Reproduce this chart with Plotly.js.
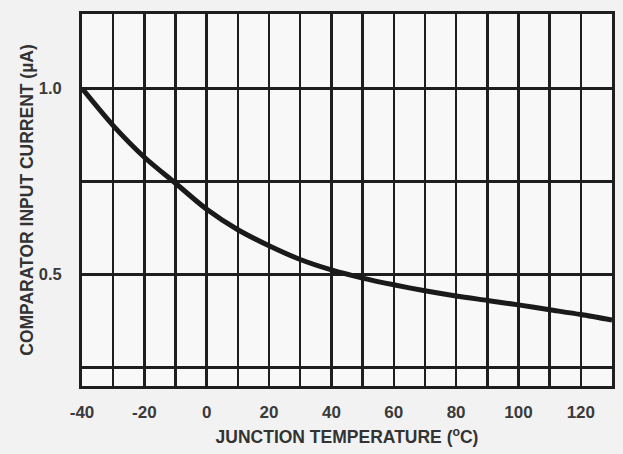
<!DOCTYPE html>
<html>
<head>
<meta charset="utf-8">
<script src="https://cdn.plot.ly/plotly-3.0.1.min.js"></script>
<style>html,body{margin:0;padding:0;background:#f2f2f2;}#chart{width:623px;height:454px;}</style>
</head>
<body>
<div id="chart"></div>
<script>
const temperature = [-40, -30, -20, -10, 0, 10, 20, 30, 40, 50, 60, 70, 80, 90, 100, 110, 120, 130];
const inputCurrent = [1.0, 0.90, 0.815, 0.745, 0.675, 0.62, 0.577, 0.54, 0.512, 0.49, 0.472, 0.456, 0.442, 0.43, 0.418, 0.405, 0.392, 0.377];
const xTickVals = [-40, -20, 0, 20, 40, 60, 80, 100, 120];
const xTickText = ['-40', '-20', '0', '20', '40', '60', '80', '100', '120'];
const yTickVals = [0.5, 1.0];
const yTickText = ['0.5', '1.0'];

const trace = {
  x: temperature, y: inputCurrent, type: 'scatter', mode: 'lines',
  line: {color: '#1a1a1a', width: 5, shape: 'spline', smoothing: 0.8},
  hoverinfo: 'skip'
};
const fontFam = 'Liberation Sans, Arial, sans-serif';
const gridCol = '#1e1e1e';
const layout = {
  width: 623, height: 454,
  margin: {l: 82, r: 11, t: 14, b: 68},
  paper_bgcolor: '#f2f2f2', plot_bgcolor: '#f8f8f8',
  showlegend: false,
  xaxis: {
    range: [-40, 130], tickvals: xTickVals, ticktext: xTickText,
    showgrid: true, gridcolor: gridCol, gridwidth: 2.5,
    minor: {tick0: -40, dtick: 10, showgrid: true, gridcolor: gridCol, gridwidth: 2.5, ticks: ''},
    showline: true, linecolor: gridCol, linewidth: 3, mirror: true,
    ticks: 'outside', ticklen: 9, tickcolor: 'rgba(0,0,0,0)',
    zeroline: false,
    tickfont: {family: fontFam, size: 17, color: '#3a3a3a', weight: 'bold'},
    title: {text: 'JUNCTION TEMPERATURE (<sup>o</sup>C)', standoff: 10,
            font: {family: fontFam, size: 17.5, color: '#333', weight: 'bold'}}
  },
  yaxis: {
    range: [0.2, 1.2], tickvals: yTickVals, ticktext: yTickText,
    showgrid: true, gridcolor: gridCol, gridwidth: 2.5,
    minor: {tick0: 0, dtick: 0.25, showgrid: true, gridcolor: gridCol, gridwidth: 2.5, ticks: ''},
    showline: true, linecolor: gridCol, linewidth: 3, mirror: true,
    ticks: 'outside', ticklen: 14, tickcolor: 'rgba(0,0,0,0)',
    zeroline: false,
    tickfont: {family: fontFam, size: 16.5, color: '#3a3a3a', weight: 'bold'},
    title: {text: 'COMPARATOR INPUT CURRENT (µA)', standoff: 1,
            font: {family: fontFam, size: 17.5, color: '#333', weight: 'bold'}}
  }
};
Plotly.newPlot('chart', [trace], layout, {staticPlot: true, displayModeBar: false});
</script>
</body>
</html>
